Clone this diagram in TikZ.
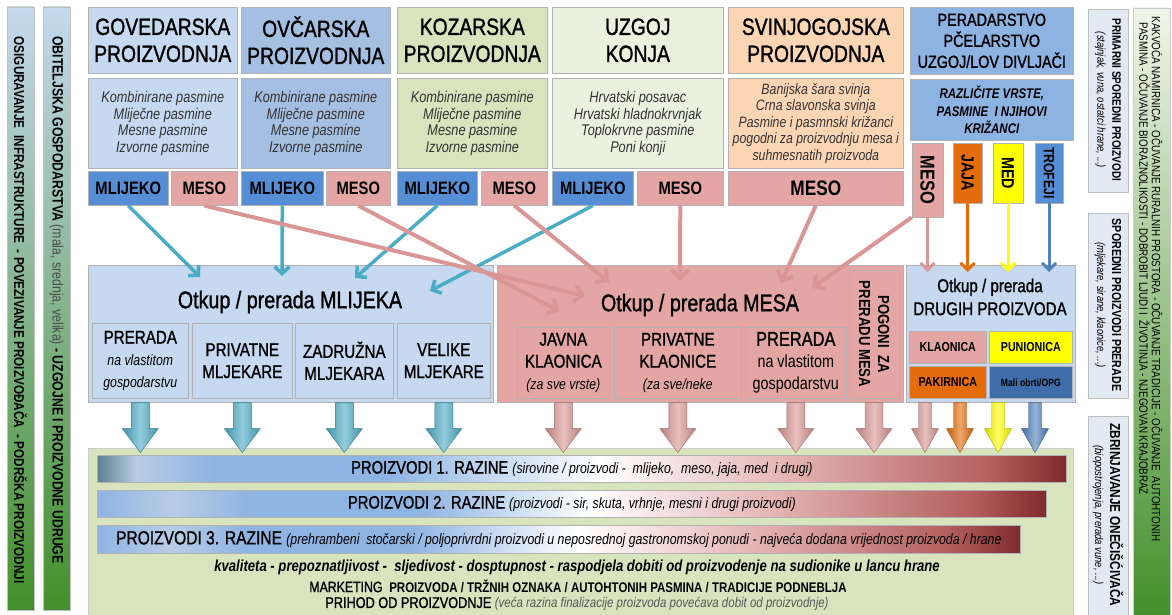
\documentclass[tikz,border=0pt]{standalone}
\usepackage{fontspec}
\setmainfont{Liberation Sans}[FakeStretch=0.82]
\setsansfont{Liberation Sans}[FakeStretch=0.82]
\newfontfamily\jakifont{Liberation Sans}[FakeStretch=0.82,FakeBold=1.2]
\usetikzlibrary{arrows.meta,calc}

\definecolor{govplava}{HTML}{C6D9F1}
\definecolor{ovcplava}{HTML}{A5BFE2}
\definecolor{kozzelena}{HTML}{D7E4BD}
\definecolor{konjzelena}{HTML}{EBF1DE}
\definecolor{svinjboja}{HTML}{FCD5B5}
\definecolor{perplava}{HTML}{8DB3E2}
\definecolor{mlijekoboja}{HTML}{558ED5}
\definecolor{mesoboja}{HTML}{E3A6A4}
\definecolor{tirkiz}{HTML}{4BACC6}
\definecolor{ruzstr}{HTML}{D99694}
\definecolor{narancasta}{HTML}{E46C0A}
\definecolor{zuta}{HTML}{FFFF00}
\definecolor{trofplava}{HTML}{4F81BD}
\definecolor{tamnoplava}{HTML}{3F6DAA}
\definecolor{podloga}{HTML}{D7E4BD}
\definecolor{trakaplava}{HTML}{C5D8EE}
\definecolor{trakasred}{HTML}{E6EFD9}
\definecolor{trakazelena}{HTML}{43902B}
\definecolor{sporedno}{HTML}{E1E9F3}
\definecolor{rzlijevo}{HTML}{5E7F90}
\definecolor{rzsvijetla}{HTML}{B9CDE5}
\definecolor{rzplava}{HTML}{8EB4E3}
\definecolor{rzroza}{HTML}{E6B9B8}
\definecolor{rzcrvena}{HTML}{B4605E}
\definecolor{rztamna}{HTML}{7F2B2B}

\pgfdeclarehorizontalshading{razina}{100bp}{color(0bp)=(rzlijevo); color(25bp)=(rzlijevo); color(27bp)=(rzsvijetla); color(31bp)=(rzplava); color(40bp)=(rzplava); color(51bp)=(white); color(60bp)=(rzroza); color(71bp)=(rzcrvena); color(75bp)=(rztamna); color(100bp)=(rztamna)}
\pgfdeclarehorizontalshading{razinadva}{100bp}{color(0bp)=(rzplava); color(25bp)=(rzplava); color(29bp)=(rzsvijetla); color(33bp)=(rzplava); color(42bp)=(rzplava); color(51bp)=(white); color(60bp)=(rzroza); color(71bp)=(rzcrvena); color(75bp)=(rztamna); color(100bp)=(rztamna)}

\newcommand{\vel}[2]{\fontsize{#1}{#2}\selectfont}

\tikzset{
  kut/.style={draw=black!30, line width=.6pt, anchor=north west, align=center, inner sep=0pt},
  naslov/.style={kut, font=\jakifont\vel{23.5}{27}, minimum height=66pt},
  opis/.style={kut, font=\vel{15.5}{16.5}\itshape, text=black!80, minimum height=90pt},
  proizvod/.style={kut, font=\vel{18}{20}\bfseries, minimum height=34pt},
  uspravno/.style={kut, anchor=center, rotate=-90, font=\vel{17.5}{20}\bfseries},
  podkut/.style={kut, minimum height=75pt, font=\jakifont\vel{18.5}{22}},
  malikut/.style={kut, minimum height=32pt, font=\vel{13}{15}\bfseries},
  razina/.style={kut, shade, shading=#1, draw=black!30, font=\jakifont\vel{18}{20}},
  razina/.default=razina,
  mlstr/.style={draw=tirkiz, line width=3.5pt, -{Straight Barb[length=7pt,width=15pt]}},
  msstr/.style={draw=ruzstr, line width=4pt, -{Straight Barb[length=8pt,width=17pt]}},
  drstr/.style={draw=#1, line width=3pt, -{Straight Barb[length=7pt,width=14pt]}},
  blok/.style={draw=#1!70!black, line width=.4pt, left color=#1!85!black, right color=#1!85!black, middle color=#1!60!white},
  okomito/.style={rotate=-90, align=center}
}

\begin{document}
\begin{tikzpicture}[x=1pt, y=-1pt, font=\sffamily]
\useasboundingbox (0,0) rectangle (1172,615);

\shade[draw=black!25, top color=trakaplava, middle color=trakasred, bottom color=trakazelena] (7,7) rectangle (34,610);
\shade[draw=black!25, top color=trakaplava, middle color=trakasred, bottom color=trakazelena] (43,7) rectangle (70,610);
\node[okomito, font=\vel{14.3}{16}\bfseries] (infra) at (20.5,310) {OSIGURAVANJE\ \ INFRASTRUKTURE\ \ - POVEZIVANJE PROIZVOĐAČA\ \ - PODRŠKA PROIZVODNJI};
\node[okomito, font=\vel{15}{16}\bfseries] (obit) at (56.5,300) {OBITELJSKA GOSPODARSTVA {\mdseries\color{black!70}(mala, srednja, velika)} - UZGOJNE I PROIZVODNE UDRUGE};

\node[naslov, fill=govplava, minimum width=149pt] (gov) at (88,7) {GOVEDARSKA\\PROIZVODNJA};
\node[naslov, fill=ovcplava, minimum width=149pt] (ovc) at (241,7) {OVČARSKA\\PROIZVODNJA};
\node[naslov, fill=kozzelena, minimum width=150pt] (koz) at (397,7) {KOZARSKA\\PROIZVODNJA};
\node[naslov, fill=konjzelena, minimum width=171pt] (konj) at (552,7) {UZGOJ\\KONJA};
\node[naslov, fill=svinjboja, minimum width=175pt] (svinj) at (728,7) {SVINJOGOJSKA\\PROIZVODNJA};
\node[kut, fill=perplava, minimum width=163pt, minimum height=67pt, font=\jakifont\vel{17.5}{21}] (per) at (910,7) {PERADARSTVO\\PČELARSTVO\\UZGOJ/LOV DIVLJAČI};

\node[opis, fill=govplava, minimum width=149pt] (govop) at (88,78) {Kombinirane pasmine\\Mliječne pasmine\\Mesne pasmine\\Izvorne pasmine};
\node[opis, fill=ovcplava, minimum width=149pt] (ovcop) at (241,78) {Kombinirane pasmine\\Mliječne pasmine\\Mesne pasmine\\Izvorne pasmine};
\node[opis, fill=kozzelena, minimum width=150pt] (kozop) at (397,78) {Kombinirane pasmine\\Mliječne pasmine\\Mesne pasmine\\Izvorne pasmine};
\node[opis, fill=konjzelena, minimum width=171pt] (konjop) at (552,78) {Hrvatski posavac\\Hrvatski hladnokrvnjak\\Toplokrvne pasmine\\Poni konji};
\node[opis, fill=svinjboja, minimum width=175pt, font=\vel{15}{16.5}\itshape] (svinjop) at (728,78) {Banijska šara svinja\\Crna slavonska svinja\\Pasmine i pasmnski križanci\\pogodni za proizvodnju mesa i\\suhmesnatih proizvoda};
\node[kut, fill=perplava, minimum width=163pt, minimum height=61pt, font=\vel{14}{17.5}\bfseries\itshape] (perop) at (910,79) {RAZLIČITE VRSTE,\\PASMINE\ \ I NJIHOVI\\KRIŽANCI};

\node[proizvod, fill=mlijekoboja, minimum width=80pt] (govml) at (88,171) {MLIJEKO};
\node[proizvod, fill=mesoboja, minimum width=66pt] (govms) at (171,171) {MESO};
\node[proizvod, fill=mlijekoboja, minimum width=82pt] (ovcml) at (241,171) {MLIJEKO};
\node[proizvod, fill=mesoboja, minimum width=64pt] (ovcms) at (326,171) {MESO};
\node[proizvod, fill=mlijekoboja, minimum width=80pt] (kozml) at (397,171) {MLIJEKO};
\node[proizvod, fill=mesoboja, minimum width=66pt] (kozms) at (481,171) {MESO};
\node[proizvod, fill=mlijekoboja, minimum width=81pt] (konjml) at (552,171) {MLIJEKO};
\node[proizvod, fill=mesoboja, minimum width=86pt] (konjms) at (637,171) {MESO};
\node[proizvod, fill=mesoboja, minimum width=175pt, font=\vel{21}{24}\bfseries] (svinjms) at (728,171) {MESO};
\node[uspravno, fill=mesoboja, minimum width=74pt, minimum height=31pt, font=\vel{20}{22}\bfseries] (permeso) at (927.5,180) {MESO};
\node[uspravno, fill=narancasta, minimum width=60pt, minimum height=29pt] (jaja) at (967.5,173) {JAJA};
\node[uspravno, fill=zuta, minimum width=60pt, minimum height=30pt] (med) at (1008,173) {MED};
\node[uspravno, fill=mlijekoboja, minimum width=60pt, minimum height=28pt, font=\vel{15}{18}\bfseries] (trofeji) at (1049,173) {TROFEJI};

\node[kut, fill=govplava, minimum width=405pt, minimum height=137pt] (mlijeka) at (88,265) {};
\node[font=\jakifont\vel{24}{28}] (mlnaslov) at (290,302) {Otkup / prerada MLIJEKA};
\node[podkut, fill=govplava, minimum width=96pt] (prerml) at (92,323) {PRERADA\\{\normalfont\itshape\vel{15}{20}na vlastitom}\\{\normalfont\itshape\vel{15}{20}gospodarstvu}};
\node[podkut, fill=govplava, minimum width=100pt] (privml) at (192,323) {PRIVATNE\\MLJEKARE};
\node[podkut, fill=govplava, minimum width=98pt] (zadr) at (295,323) {ZADRUŽNA\\MLJEKARA};
\node[podkut, fill=govplava, minimum width=93pt] (velike) at (397,323) {VELIKE\\MLJEKARE};

\node[kut, fill=mesoboja, minimum width=406pt, minimum height=137pt] (mesa) at (497,265) {};
\node[font=\jakifont\vel{24}{28}] (msnaslov) at (700,305) {Otkup / prerada MESA};
\node[podkut, fill=mesoboja, minimum width=92pt, minimum height=71pt] (javna) at (517,327) {JAVNA\\KLAONICA\\{\normalfont\itshape\vel{15}{20}(za sve vrste)}};
\node[podkut, fill=mesoboja, minimum width=127pt, minimum height=71pt] (privkl) at (614,327) {PRIVATNE\\KLAONICE\\{\normalfont\itshape\vel{15}{20}(za sve/neke}};
\node[podkut, fill=mesoboja, minimum width=101pt, minimum height=71pt, font=\vel{17.5}{22}] (prerms) at (745,327) {{\jakifont\vel{20}{22}PRERADA}\\na vlastitom\\gospodarstvu};
\node[uspravno, fill=mesoboja, minimum width=128pt, minimum height=50pt, font=\vel{16}{19}\bfseries, align=center] (pogoni) at (874,334) {POGONI\ \ ZA\\PRERADU MESA};

\node[kut, fill=govplava, minimum width=169pt, minimum height=137pt] (drugih) at (906,265) {};
\node[font=\jakifont\vel{18.5}{23}, align=center] (drnaslov) at (990,297) {Otkup / prerada\\DRUGIH PROIZVODA};
\node[malikut, fill=mesoboja, minimum width=77pt] (klaonica) at (909,331) {KLAONICA};
\node[malikut, fill=zuta, minimum width=83pt] (punionica) at (989,331) {PUNIONICA};
\node[malikut, fill=narancasta, minimum width=77pt] (pakirnica) at (909,366) {PAKIRNICA};
\node[malikut, fill=tamnoplava, minimum width=83pt, font=\vel{10.5}{12}\bfseries] (obrti) at (989,366) {Mali obrti/OPG};

\coordinate (ml1) at (200,277);
\coordinate (ml2) at (282,276);
\coordinate (ml3) at (355,278);
\coordinate (ml4) at (430,291);
\coordinate (ms1) at (585,296);
\coordinate (ms2) at (559,311);
\coordinate (ms3) at (609,282);
\coordinate (ms4) at (680,281);
\coordinate (ms5) at (781,283);
\coordinate (ms6) at (812,288);
\coordinate (drvrh) at (990,272);

\draw[mlstr] (govml.south) -- (ml1);
\draw[mlstr] (ovcml.south) -- (ml2);
\draw[mlstr] (kozml.south) -- (ml3);
\draw[mlstr] (konjml.south) -- (ml4);
\draw[msstr] (govms.south) -- (ms1);
\draw[msstr] (ovcms.south) -- (ms2);
\draw[msstr] (kozms.south) -- (ms3);
\draw[msstr] (konjms.south) -- (ms4);
\draw[msstr] (svinjms.south) -- (ms5);
\draw[msstr] (permeso.south east) -- (ms6);
\draw[drstr=ruzstr] (permeso.east) -- (permeso.east |- drvrh);
\draw[drstr=narancasta] (jaja.east) -- (jaja.east |- drvrh);
\draw[drstr=zuta] (med.east) -- (med.east |- drvrh);
\draw[drstr=trofplava] (trofeji.east) -- (trofeji.east |- drvrh);

\node[kut, fill=podloga, draw=black!20, minimum width=985pt, minimum height=167pt] (polje) at (88,448) {};

\foreach \n in {prerml,privml,zadr,velike}
  \path[blok=tirkiz] ($(\n |- mlijeka.south)+(-9,0)$) -- ++(0,26) -- ++(-9,0) -- ++(18,24) -- ++(18,-24) -- ++(-9,0) -- ++(0,-26) -- cycle;
\foreach \n in {javna,privkl,prerms,pogoni}
  \path[blok=ruzstr] ($(\n |- mesa.south)+(-9,0)$) -- ++(0,26) -- ++(-9,0) -- ++(18,24) -- ++(18,-24) -- ++(-9,0) -- ++(0,-26) -- cycle;
\foreach \dx/\boja in {19/ruzstr,54/narancasta,92/zuta,129/trofplava}
  \path[blok=\boja] ($(drugih.south west)+(\dx-6.5,0)$) -- ++(0,26) -- ++(-7,0) -- ++(13.5,24) -- ++(13.5,-24) -- ++(-7,0) -- ++(0,-26) -- cycle;

\node[razina, minimum width=969pt, minimum height=27pt] (r1) at (97,455) {PROIZVODI 1. RAZINE {\normalfont\itshape\vel{15}{17}(sirovine / proizvodi -\ \ mlijeko,\ \ meso, jaja, med\ \ i drugi)}};
\node[razina=razinadva, minimum width=949pt, minimum height=27pt] (r2) at (97,490) {PROIZVODI 2. RAZINE {\normalfont\itshape\vel{15}{17}(proizvodi - sir, skuta, vrhnje, mesni i drugi proizvodi)}};
\node[razina=razinadva, minimum width=923pt, minimum height=28pt, font=\jakifont\vel{19}{21}] (r3) at (97,525) {PROIZVODI 3. RAZINE {\normalfont\itshape\vel{15}{17}(prehrambeni\ \ stočarski / poljoprivrdni proizvodi u neposrednoj gastronomskoj ponudi - najveća dodana vrijednost proizvoda / hrane}};

\node[font=\vel{16}{18}\bfseries\itshape] (kval) at (577,567) {kvaliteta - prepoznatljivost -\ \ sljedivost - dosptupnost - raspodjela dobiti od proizvodenje na sudionike u lancu hrane};
\node[font=\jakifont\vel{15}{17}] (mark) at (578,586) {MARKETING\ \ {\normalfont\bfseries\vel{14}{15}PROIZVODA / TRŽNIH OZNAKA / AUTOHTONIH PASMINA / TRADICIJE PODNEBLJA}};
\node[font=\jakifont\vel{15.5}{17}] (prihod) at (577,604) {PRIHOD OD PROIZVODNJE {\normalfont\itshape\vel{14}{15}\color{black!65}(veća razina finalizacije proizvoda povećava dobit od proizvodnje)}};

\fill[sporedno, draw=black!25] (1088,9) rectangle (1128,192);
\fill[sporedno, draw=black!25] (1088,213) rectangle (1128,398);
\fill[sporedno, draw=black!25] (1088,416) rectangle (1128,615);
\node[okomito, font=\vel{12.2}{15}] (primarni) at (1108,100) {\bfseries PRIMARNI SPOREDNI PROIZVODI\\\mdseries\itshape\vel{11.5}{15}(stajnjak, vuna, ostatci hrane, ...)};
\node[okomito, font=\vel{13}{15}] (prerade) at (1108,305) {\bfseries SPOREDNI PROIZVODI PRERADE\\\mdseries\itshape\vel{11.5}{15}(mljekare, sirane, klaonice, ...)};
\node[okomito, font=\vel{14.5}{15}] (zbrinj) at (1108,515) {\bfseries ZBRINJAVANJE ONEČIŠĆIVAČA\\\mdseries\itshape\vel{11.5}{15}(biopostrojenja, prerada vune, ...)};

\shade[draw=black!20, top color=trakasred!60!white, bottom color=trakazelena] (1133,8) rectangle (1170,615);
\node[rotate=-90, anchor=north west, align=left, font=\vel{12}{12.5}] (kakvoca) at (1166,13) {KAKVOĆA NAMIRNICA - OČUVANJE RURALNIH PROSTORA - OČUVANJE TRADICIJE - OČUVANJE\ \ AUTOHTONIH\\\hspace*{6pt}PASMINA - OČUVANJE BIORAZNOLIKOSTI - DOBROBIT LJUDI I\ \ ŽIVOTINJA - NJEGOVAN KRAJOBRAZ};
\end{tikzpicture}
\end{document}
